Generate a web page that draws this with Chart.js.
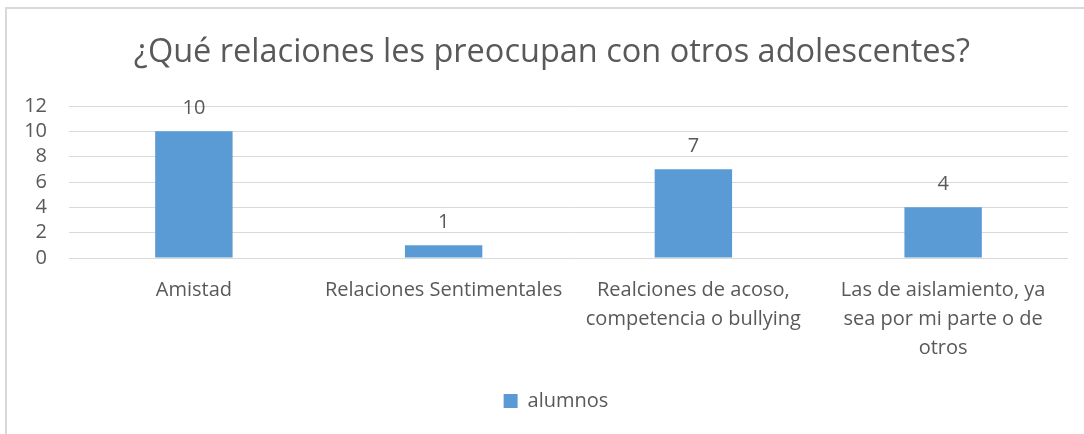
<!DOCTYPE html>
<html>
<head>
<meta charset="utf-8">
<script src="https://cdn.jsdelivr.net/npm/chart.js@4/dist/chart.umd.min.js"></script>
<style>
  html, body { margin: 0; padding: 0; background: #fff; overflow: hidden; }
  #frame { position: absolute; left: 5px; top: 7px; width: 1200px; height: 500px;
           border-left: 2px solid #d9d9d9; border-top: 2px solid #d9d9d9; }
  #wrap { position: absolute; left: 0; top: 0; width: 1084px; height: 434px; }
</style>
</head>
<body>
<div id="frame"></div>
<div id="wrap"><canvas id="chart" width="1084" height="434"></canvas></div>
<script>
const categories = [
  'Amistad',
  'Relaciones Sentimentales',
  ['Realciones de acoso,', 'competencia o bullying'],
  ['Las de aislamiento, ya', 'sea por mi parte o de', 'otros']
];
const alumnos = [10, 1, 7, 4];
const yTicks = [0, 2, 4, 6, 8, 10, 12];

const textColor = '#595959';
const fontFamily = '"Open Sans", sans-serif';

// etiquetas de valor encima de cada barra
const valueLabels = {
  id: 'valueLabels',
  afterDatasetsDraw(chart) {
    const ctx = chart.ctx;
    const meta = chart.getDatasetMeta(0);
    ctx.save();
    ctx.fillStyle = textColor;
    ctx.font = '20px ' + fontFamily;
    ctx.textAlign = 'center';
    ctx.textBaseline = 'middle';
    meta.data.forEach((bar, i) => {
      ctx.fillText(String(alumnos[i]), bar.x, bar.y - 23);
    });
    ctx.restore();
  }
};

// el marco original es más ancho que el recorte: título y leyenda van algo a la derecha
const shiftBoxes = {
  id: 'shiftBoxes',
  afterLayout(chart) {
    chart.titleBlock.left += 18;
    chart.titleBlock.right += 18;
    chart.legend.left += 22;
    chart.legend.right += 22;
  }
};

document.addEventListener('DOMContentLoaded', () => {
  const ctx = document.getElementById('chart').getContext('2d');
  new Chart(ctx, {
    type: 'bar',
    data: {
      labels: categories,
      datasets: [{
        label: 'alumnos',
        data: alumnos,
        backgroundColor: '#5b9bd5',
        borderWidth: 0,
        barPercentage: 0.31,
        categoryPercentage: 1
      }]
    },
    options: {
      responsive: false,
      animation: false,
      layout: { padding: { left: 0, right: 16, top: 0, bottom: 13 } },
      plugins: {
        title: {
          display: true,
          text: '¿Qué relaciones les preocupan con otros adolescentes?',
          color: textColor,
          font: { family: fontFamily, size: 32.5, weight: 'normal' },
          padding: { top: 33.5, bottom: 33.5 }
        },
        legend: {
          position: 'bottom',
          labels: {
            color: textColor,
            font: { family: fontFamily, size: 20 },
            boxWidth: 14,
            boxHeight: 14,
            padding: 10
          }
        },
        tooltip: { enabled: false }
      },
      scales: {
        x: {
          grid: { display: false },
          border: { display: false },
          ticks: {
            color: textColor,
            font: { family: fontFamily, size: 20, lineHeight: 1.45 },
            autoSkip: false,
            maxRotation: 0,
            padding: 10
          },
          afterFit(scale) { scale.height = 123; }
        },
        y: {
          min: 0,
          max: 12,
          afterBuildTicks(scale) { scale.ticks = yTicks.map(v => ({ value: v })); },
          grid: { color: '#d9d9d9', drawTicks: false },
          border: { display: false },
          ticks: {
            color: textColor,
            font: { family: fontFamily, size: 20 },
            autoSkip: false,
            padding: 22
          },
          afterFit(scale) { scale.width = 69; }
        }
      }
    },
    plugins: [valueLabels, shiftBoxes]
  });
});
</script>
</body>
</html>
